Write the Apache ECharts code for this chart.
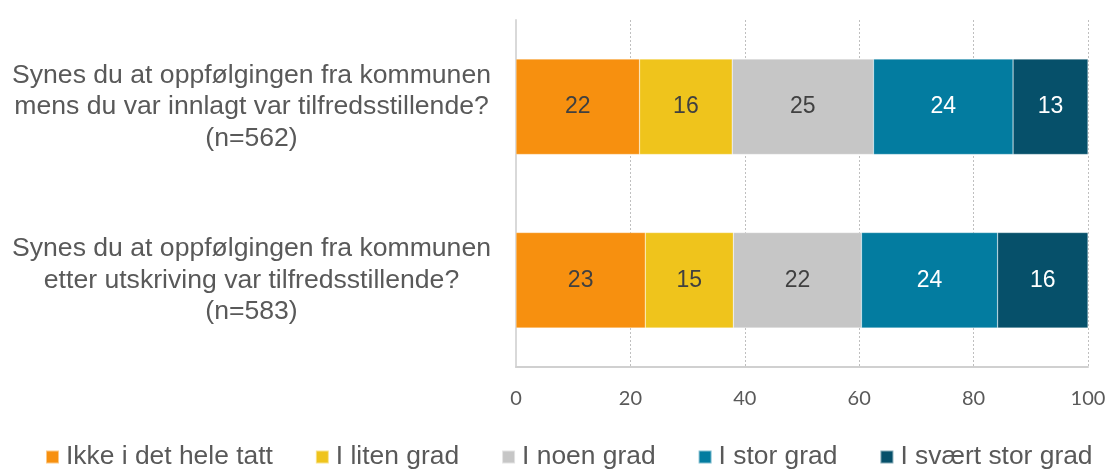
<!DOCTYPE html>
<html>
<head>
<meta charset="utf-8">
<script src="https://cdn.jsdelivr.net/npm/echarts@6/dist/echarts.min.js"></script>
<style>
  html, body { margin: 0; padding: 0; background: #fff; }
  #chart { width: 1109px; height: 469px; }
</style>
</head>
<body>
<div id="chart"></div>
<script>
// top row first (y axis is inverted)
const categories = [
  'Synes du at oppfølgingen fra kommunen\nmens du var innlagt var tilfredsstillende?\n(n=562)',
  'Synes du at oppfølgingen fra kommunen\netter utskriving var tilfredsstillende?\n(n=583)'
]
const seriesNames = ['Ikke i det hele tatt', 'I liten grad', 'I noen grad', 'I stor grad', 'I svært stor grad']
const ikkeIDetHeleTatt = [21.6, 22.6]
const iLitenGrad = [16.2, 15.4]
const iNoenGrad = [24.7, 22.4]
const iStorGrad = [24.4, 23.8]
const iSvaertStorGrad = [13.1, 15.8]
const xTicks = [0, 20, 40, 60, 80, 100]

const colors = ['#f7900f', '#efc41c', '#c6c6c6', '#037ca0', '#06506a']
const labelColors = ['#404040', '#404040', '#404040', '#fff', '#fff']
const textFont = '"Liberation Sans", Arial, sans-serif'

const values = [ikkeIDetHeleTatt, iLitenGrad, iNoenGrad, iStorGrad, iSvaertStorGrad]

const series = seriesNames.map((name, i) => ({
  name,
  type: 'bar',
  stack: 'total',
  barCategoryGap: '45%',
  data: values[i],
  itemStyle: {
    color: colors[i],
    borderColor: 'rgba(255,255,255,0.5)',
    borderWidth: 0.5
  },
  label: {
    show: true,
    position: 'inside',
    formatter: p => Math.round(p.value),
    color: labelColors[i],
    fontFamily: textFont,
    fontSize: 23
  },
  emphasis: { disabled: true }
}))

const chart = echarts.init(document.getElementById('chart'), null, { renderer: 'canvas' })

chart.setOption({
  animation: false,
  grid: {
    left: 516,
    right: 21,
    top: 20,
    bottom: 102
  },
  legend: {
    data: seriesNames,
    left: 45,
    top: 444,
    padding: 0,
    itemWidth: 13,
    itemHeight: 13,
    itemGap: 42,
    icon: 'rect',
    textStyle: {
      color: '#595959',
      fontFamily: textFont,
      fontSize: 26.4,
      padding: [0, 0, 0, 2]
    }
  },
  xAxis: {
    type: 'value',
    min: xTicks[0],
    max: xTicks[xTicks.length - 1],
    interval: 20,
    axisLine: { show: true, lineStyle: { color: '#d0d0d0', width: 2 } },
    axisTick: { show: false },
    axisLabel: {
      color: '#595959',
      fontFamily: 'Lato, sans-serif',
      fontSize: 20,
      margin: 22
    },
    splitLine: {
      show: true,
      lineStyle: { color: '#bfbfbf', type: [2, 2], width: 1 }
    }
  },
  yAxis: {
    type: 'category',
    inverse: true,
    data: categories,
    axisLine: { show: true, lineStyle: { color: '#d9d9d9', width: 2 } },
    axisTick: { show: false },
    axisLabel: {
      color: '#595959',
      fontFamily: textFont,
      fontSize: 26.6,
      lineHeight: 31.5,
      align: 'center',
      padding: [5, 0, 0, 0],
      margin: 264.5
    }
  },
  series
})
</script>
</body>
</html>
